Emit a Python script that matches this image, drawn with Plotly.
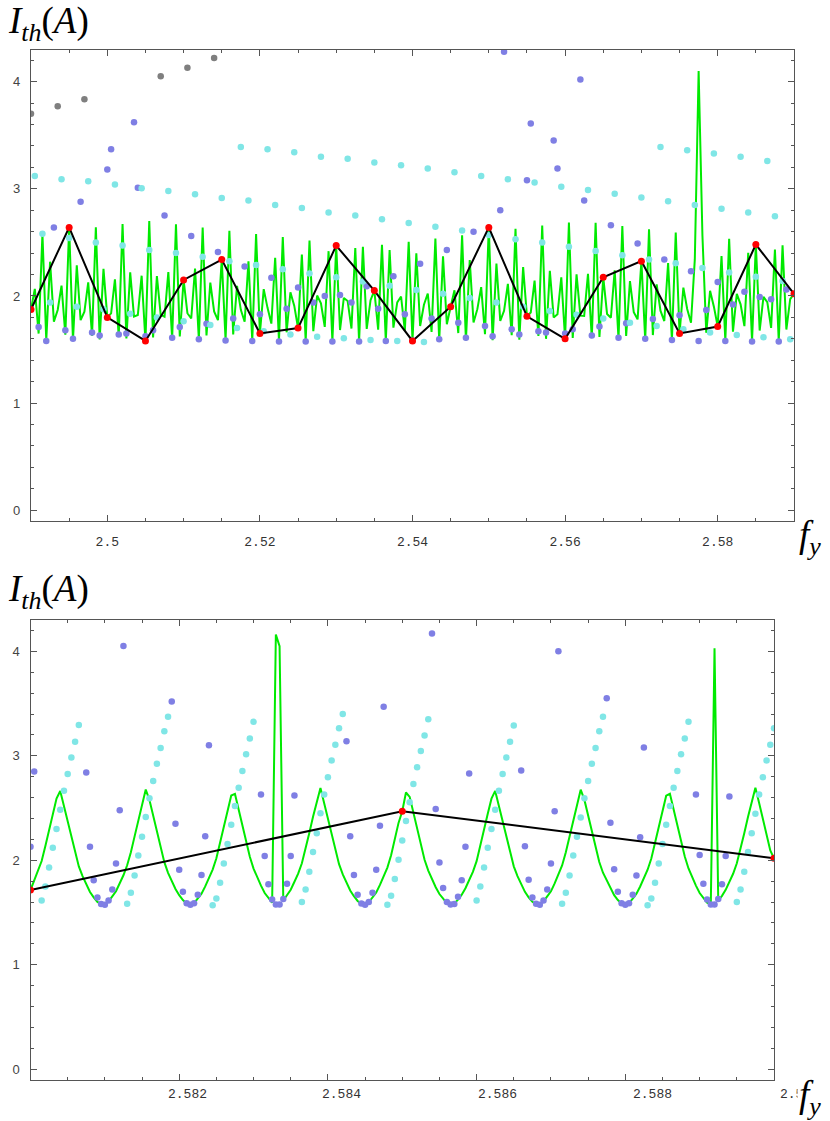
import plotly.graph_objects as go

W, H = 830, 1121

# ---------------- TOP PANEL DATA (sample grid 2.49 .. 2.59, step 0.0005) ----------------
TOP_X0, TOP_STEP = 2.49, 0.0005
top_green = [
    1.874, 2.066, 1.649, 2.581, 1.586, 2.320, 1.760, 1.869, 2.097, 1.639,
    2.64, 1.589, 2.287, 1.775, 1.854, 2.127, 1.630, 2.641, 1.595, 2.253,
    1.80, 1.838, 2.156, 1.621, 2.671, 1.604, 2.220, 1.807, 1.822, 2.189,
    1.58, 2.70, 1.613, 2.186, 1.823, 1.806, 2.223, 1.604, 2.669, 1.622,
    2.15, 1.839, 1.790, 2.256, 1.595, 2.639, 1.631, 2.124, 1.855, 1.775,
    2.34, 1.589, 2.608, 1.640, 2.095, 1.871, 1.759, 2.324, 1.586, 2.579,
    1.65, 2.064, 1.889, 1.742, 2.356, 1.583, 2.549, 1.661, 2.035, 1.910,
    1.70, 2.387, 1.581, 2.518, 1.671, 2.004, 1.931, 1.711, 2.418, 1.578,
    2.47, 1.682, 1.982, 1.952, 1.696, 2.447, 1.575, 2.459, 1.692, 1.961,
    2.05, 1.686, 2.477, 1.577, 2.428, 1.705, 1.940, 1.995, 1.675, 2.506,
    1.58, 2.399, 1.720, 1.918, 2.023, 1.665, 2.537, 1.582, 2.369, 1.736,
    1.90, 2.053, 1.654, 2.567, 1.585, 2.335, 1.752, 1.877, 2.083, 1.644,
    2.64, 1.588, 2.303, 1.768, 1.861, 2.113, 1.634, 2.627, 1.591, 2.269,
    1.81, 1.845, 2.143, 1.626, 2.658, 1.600, 2.235, 1.800, 1.829, 2.173,
    1.60, 2.686, 1.609, 2.202, 1.816, 1.813, 2.207, 1.607, 2.683, 1.618,
    2.175, 1.832, 1.797, 2.240, 1.599, 2.652, 1.627, 2.138, 1.848, 1.782,
    2.325, 1.590, 2.623, 1.635, 2.109, 1.863, 1.766, 2.308, 1.587, 2.593,
    1.65, 2.078, 1.879, 1.750, 2.341, 4.10, 2.562, 1.656, 2.048, 1.900,
    1.715, 2.373, 1.582, 2.533, 1.666, 2.019, 1.922, 1.718, 2.403, 1.579,
    2.48, 1.677, 1.992, 1.943, 1.702, 2.433, 1.577, 2.472, 1.687, 1.970,
    2.02,
]

# dots: (residue r, first group m0, values) -> sample index k = 7*(m0+i) + r
top_cyan_rows = [
    (1, 0, [3.12, 3.09, 3.07, 3.04, 3.005, 2.98, 2.95, 2.915, 2.89, 2.85, 2.82, 2.78, 2.75, 2.715,
            2.68, 2.645, 2.61, 2.57, 2.53, 2.50, 2.46, 2.42, 2.38, 2.34, 2.305, 2.26, 2.22, 2.18, 2.14]),
    (3, 0, [2.58, 2.54, 2.50, 2.47, 2.43, 2.40, 2.365, 2.325, 2.29, 2.25, 2.21, 2.175, 2.135, 2.095,
            2.055, 2.02, 1.98, 1.94, 1.90, 1.86, 1.825, 1.79, 1.75, 1.72, 1.69, 1.66, 1.635, 1.615, 1.595]),
    (5, 0, [1.94, 1.90, 1.875, 1.835, 1.80, 1.765, 1.73, 1.70, 1.67, 1.64, 1.62, 1.605, 1.59, 1.58, 1.57]),
    (6, 7, [3.39, 3.37, 3.34, 3.30, 3.28, 3.245, 3.22, 3.19, 3.155, 3.12, 3.09, 3.06, 3.02, 2.99,
            2.955, 2.92, 2.885, 2.85, 2.815, 2.78, 2.745]),
    (4, 23, [3.39, 3.36, 3.33, 3.30, 3.26]),
]
top_purple_rows = [
    (0, 3, [3.37, 3.01, 2.75, 2.56, 2.41, 2.275, 2.17, 2.08, 2.00, 1.94, 1.88, 1.83, 1.79, 1.75,
            1.72, 1.69, 1.67, 1.65, 1.63, 1.61, 1.60, 1.59, 1.58, 1.58, 1.575, 1.575]),
    (2, 0, [1.71, 1.68, 1.66, 1.64, 1.625, 1.61, 1.595, 1.585, 1.58, 1.575, 1.575, 1.575, 1.575, 1.58,
            1.585, 1.595, 1.61, 1.625, 1.64, 1.66, 1.69, 1.715, 1.745, 1.785, 1.82, 1.87, 1.92, 1.99, 2.06]),
    (4, 0, [1.58, 1.60, 1.63, 1.65, 1.68, 1.71, 1.74, 1.79, 1.83, 1.88, 1.94, 2.01, 2.09, 2.185,
            2.30, 2.43, 2.60, 2.80, 3.08, 3.45, 4.02]),
    (5, 17, [4.28, 3.61, 3.19, 2.89, 2.66, 2.49, 2.34, 2.23, 2.13, 2.04, 1.97]),
    (6, 0, [2.64, 2.88, 3.18, 3.62]),
]
top_gray_rows = [
    (0, 0, [3.70, 3.77, 3.835]),
    (6, 4, [4.05, 4.13, 4.22]),
]
top_red = [1.874, 2.64, 1.80, 1.58, 2.15, 2.34, 1.65, 1.70, 2.47, 2.05, 1.58,
           1.90, 2.64, 1.81, 1.60, 2.175, 2.325, 1.65, 1.715, 2.48, 2.02]
TOP_RED_STEP = 0.005

# ---------------- BOTTOM PANEL DATA (sample grid 2.58 .. 2.59, step 0.00005) ----------------
BOT_X0, BOT_STEP = 2.58, 0.00005
bot_green = [
    1.715, 1.811, 1.891, 1.993, 2.136, 2.294, 2.447, 2.591, 2.663, 2.518,
    2.372, 2.212, 2.061, 1.941, 1.849, 1.772, 1.697, 1.645, 1.602, 1.581,
    1.582, 1.606, 1.651, 1.704, 1.780, 1.857, 1.952, 2.077, 2.229, 2.387,
    2.533, 2.678, 2.576, 2.431, 2.276, 2.121, 1.982, 1.880, 1.803, 1.726,
    1.666, 1.619, 1.586, 1.577, 1.590, 1.632, 1.681, 1.750, 1.826, 1.911,
    2.019, 2.165, 2.326, 2.474, 2.620, 2.635, 2.489, 2.343, 2.180, 2.034,
    1.921, 1.834, 1.757, 1.687, 1.636, 1.594, 4.16, 4.05, 1.615, 1.661,
    1.718, 1.795, 1.872, 1.972, 2.105, 2.261, 2.416, 2.562, 2.693, 2.547,
    2.403, 2.246, 2.092, 1.963, 1.865, 1.788, 1.711, 1.656, 1.611, 1.583,
    1.580, 1.598, 1.641, 1.692, 1.764, 1.841, 1.930, 2.048, 2.195, 2.358,
    2.47, 2.649, 2.607, 2.460, 2.311, 2.150, 2.005, 1.902, 1.819, 1.742,
    1.677, 1.628, 1.589, 1.576, 1.587, 1.623, 1.671, 1.733, 1.811, 1.890,
    1.992, 2.134, 2.292, 2.445, 2.590, 2.664, 2.520, 2.374, 2.214, 2.063,
    1.942, 1.849, 1.773, 1.698, 1.646, 1.603, 1.581, 1.582, 1.606, 1.650,
    1.703, 1.779, 1.857, 1.951, 2.077, 2.227, 2.386, 2.532, 2.676, 2.578,
    2.433, 2.278, 2.122, 1.983, 1.881, 1.804, 1.727, 1.666, 1.620, 1.586,
    1.577, 1.590, 1.632, 1.681, 1.749, 1.825, 1.910, 2.017, 2.163, 2.324,
    2.474, 2.618, 2.637, 2.491, 2.345, 2.181, 2.036, 1.922, 1.835, 1.758,
    1.687, 1.637, 1.594, 1.578, 4.03, 1.615, 1.660, 1.717, 1.795, 1.871,
    1.971, 2.104, 2.259, 2.414, 2.561, 2.695, 2.549, 2.404, 2.246, 2.094,
    2.02,
]
# (first sample index, values) runs
bot_cyan_runs = [
    (3, [1.615, 1.75, 1.93, 2.12, 2.30, 2.485, 2.665, 2.825, 2.985, 3.135, 3.295]),
    (26, [1.585, 1.69, 1.855, 2.045, 2.225, 2.415, 2.595, 2.76, 2.925, 3.075, 3.235, 3.375]),
    (49, [1.57, 1.635, 1.785, 1.97, 2.155, 2.34, 2.52, 2.695, 2.855, 3.015, 3.165, 3.325]),
    (73, [1.60, 1.72, 1.89, 2.08, 2.26, 2.45, 2.63, 2.795, 2.955, 3.105, 3.265, 3.40]),
    (96, [1.575, 1.66, 1.82, 2.005, 2.19, 2.375, 2.555, 2.73, 2.89, 3.045, 3.195, 3.35]),
    (120, [1.615, 1.75, 1.93, 2.12, 2.30, 2.485, 2.665, 2.825, 2.985, 3.135, 3.29]),
    (143, [1.585, 1.69, 1.855, 2.045, 2.225, 2.41, 2.595, 2.76, 2.925, 3.075, 3.235, 3.375]),
    (166, [1.57, 1.635, 1.785, 1.97, 2.155, 2.34, 2.52, 2.695, 2.855, 3.015, 3.165, 3.325]),
    (190, [1.60, 1.72, 1.89, 2.08, 2.26, 2.445, 2.63, 2.795, 2.955, 3.105, 3.265]),
]
bot_purple_runs = [
    (0, [2.13, 2.85]),
    (15, [2.84, 2.13, 1.81, 1.645, 1.582, 1.575, 1.615, 1.72, 1.97, 2.48, 4.05]),
    (38, [3.52, 2.35, 1.91, 1.70, 1.59, 1.575, 1.59, 1.67, 1.86, 2.23, 3.10]),
    (62, [2.63, 2.04, 1.77, 1.625, 1.578, 1.576, 1.63, 1.775, 2.04, 2.62]),
    (85, [3.14, 2.23, 1.86, 1.67, 1.586, 1.575, 1.60, 1.69, 1.91, 2.33, 3.47]),
    (108, [4.17, 2.49, 1.98, 1.735, 1.60, 1.576, 1.581, 1.65, 1.81, 2.13, 2.83]),
    (132, [2.86, 2.135, 1.815, 1.645, 1.583, 1.575, 1.615, 1.72, 1.97, 2.47, 4.00]),
    (155, [3.55, 2.36, 1.915, 1.70, 1.59, 1.575, 1.59, 1.67, 1.855, 2.22, 3.08]),
    (179, [2.63, 2.05, 1.775, 1.625, 1.578, 1.576, 1.63, 1.77, 2.04, 2.61]),
]
bot_red_x = [2.58, 2.585, 2.59]
bot_red = [1.715, 2.47, 2.02]

top_xticks = [2.5, 2.52, 2.54, 2.56, 2.58]
top_xtext = ["2.5", "2.52", "2.54", "2.56", "2.58"]
bot_xticks = [2.582, 2.584, 2.586, 2.588, 2.59]
bot_xtext = ["2.582", "2.584", "2.586", "2.588", "2.59"]
# in the reference the bottom tick labels drift to the right of their ticks
bot_label_px = [187, 341, 497, 652, 795]
yticks = [0, 1, 2, 3, 4]

# ---------------- helpers ----------------
def rows_to_xy(rows, x0, step):
    xs, ys = [], []
    for r, m0, vals in rows:
        for i, v in enumerate(vals):
            k = 7 * (m0 + i) + r
            xs.append(x0 + step * k)
            ys.append(v)
    return xs, ys

def runs_to_xy(runs, x0, step):
    xs, ys = [], []
    for j0, vals in runs:
        for i, v in enumerate(vals):
            xs.append(x0 + step * (j0 + i))
            ys.append(v)
    return xs, ys

GREEN = "#00ea00"
CYAN = "#80e6e6"
PURPLE = "#7f7fe4"
GRAY = "#7f7f7f"
RED = "#ff0000"
DOT = 6.5

fig = go.Figure()

def add_panel(xa, ya, gx, gy, dot_sets, rx, ry):
    fig.add_trace(go.Scatter(x=gx, y=gy, mode="lines", line=dict(color=GREEN, width=2),
                             xaxis=xa, yaxis=ya, hoverinfo="skip"))
    for xs, ys, col in dot_sets:
        fig.add_trace(go.Scatter(x=xs, y=ys, mode="markers",
                                 marker=dict(color=col, size=DOT, line=dict(width=0)),
                                 xaxis=xa, yaxis=ya, hoverinfo="skip"))
    fig.add_trace(go.Scatter(x=rx, y=ry, mode="lines", line=dict(color="black", width=2),
                             xaxis=xa, yaxis=ya, hoverinfo="skip"))
    fig.add_trace(go.Scatter(x=rx, y=ry, mode="markers",
                             marker=dict(color=RED, size=7, line=dict(width=0)),
                             xaxis=xa, yaxis=ya, hoverinfo="skip"))

# top
tgx = [TOP_X0 + TOP_STEP * k for k in range(len(top_green))]
tpx, tpy = rows_to_xy(top_purple_rows, TOP_X0, TOP_STEP)
tcx, tcy = rows_to_xy(top_cyan_rows, TOP_X0, TOP_STEP)
tgrx, tgry = rows_to_xy(top_gray_rows, TOP_X0, TOP_STEP)
trx = [TOP_X0 + TOP_RED_STEP * i for i in range(len(top_red))]
add_panel("x", "y", tgx, top_green,
          [(tpx, tpy, PURPLE), (tcx, tcy, CYAN), (tgrx, tgry, GRAY)], trx, top_red)

# bottom
bgx = [BOT_X0 + BOT_STEP * j for j in range(len(bot_green))]
bpx, bpy = runs_to_xy(bot_purple_runs, BOT_X0, BOT_STEP)
bcx, bcy = runs_to_xy(bot_cyan_runs, BOT_X0, BOT_STEP)
add_panel("x2", "y2", bgx, bot_green, [(bpx, bpy, PURPLE), (bcx, bcy, CYAN)], bot_red_x, bot_red)

FRAME = "#555555"
XFONT = dict(family="Liberation Mono", size=13, color="#333333")
YFONT = dict(family="Liberation Sans", size=13, color="#444444")

def xaxis(domain, rng, tv, tt, minor_dt, anchor, show_labels=True, standoff=8):
    return dict(domain=domain, range=rng, anchor=anchor, showgrid=False, zeroline=False,
                showline=True, linecolor=FRAME, linewidth=1.3, mirror="ticks",
                ticks="inside", ticklen=6, tickwidth=1, tickcolor=FRAME,
                tickvals=tv, ticktext=tt, tickfont=XFONT, ticklabelstandoff=standoff,
                showticklabels=show_labels,
                minor=dict(ticks="inside", ticklen=3, tickwidth=1, tickcolor=FRAME,
                           dtick=minor_dt, tick0=rng[0], showgrid=False))

def yaxis(domain, anchor):
    return dict(domain=domain, range=[-0.1, 4.3], anchor=anchor, showgrid=False, zeroline=False,
                showline=True, linecolor=FRAME, linewidth=1.3, mirror="ticks",
                ticks="inside", ticklen=6, tickwidth=1, tickcolor=FRAME,
                tickvals=yticks, tickfont=YFONT, ticklabelstandoff=7,
                minor=dict(ticks="inside", ticklen=3, tickwidth=1, tickcolor=FRAME,
                           dtick=0.2, tick0=0, showgrid=False))

top_dom_x = [31 / W, 794 / W]
top_dom_y = [1 - 521 / H, 1 - 49.5 / H]
bot_dom_x = [30.5 / W, 774 / W]
bot_dom_y = [1 - 1079.7 / H, 1 - 620 / H]

fig.update_layout(
    width=W, height=H, margin=dict(l=0, r=0, t=0, b=0),
    paper_bgcolor="white", plot_bgcolor="white", showlegend=False,
    xaxis=xaxis(top_dom_x, [2.49, 2.59], top_xticks, top_xtext, 0.005, "y"),
    yaxis=yaxis(top_dom_y, "x"),
    xaxis2=xaxis(bot_dom_x, [2.58, 2.59], bot_xticks, bot_xtext, 0.0005, "y2", show_labels=False),
    yaxis2=yaxis(bot_dom_y, "x2"),
)

# bottom tick labels, placed where the reference draws them
for txt, px in zip(bot_xtext, bot_label_px):
    fig.add_annotation(text=txt, xref="paper", yref="paper", x=px / W, y=1 - 1094 / H,
                       xanchor="center", yanchor="middle", showarrow=False, font=XFONT)

TFONT = dict(family="Liberation Serif", size=37, color="black")
ylabel = "<i>I</i><sub><i>th</i></sub>(<i>A</i>)"
xlabel = "<i>f</i><sub><i>y</i></sub>"
for ytop in (-2, 566):
    fig.add_annotation(text=ylabel, xref="paper", yref="paper", x=6 / W, y=1 - ytop / H,
                       xanchor="left", yanchor="top", showarrow=False, font=TFONT)
for ytop in (512, 1072):
    fig.add_annotation(text=xlabel, xref="paper", yref="paper", x=797 / W, y=1 - ytop / H,
                       xanchor="left", yanchor="top", showarrow=False, font=TFONT,
                       bgcolor="white")

fig.write_html("out.html", config={"displayModeBar": False},
               post_script="document.body.style.margin='0px';")
